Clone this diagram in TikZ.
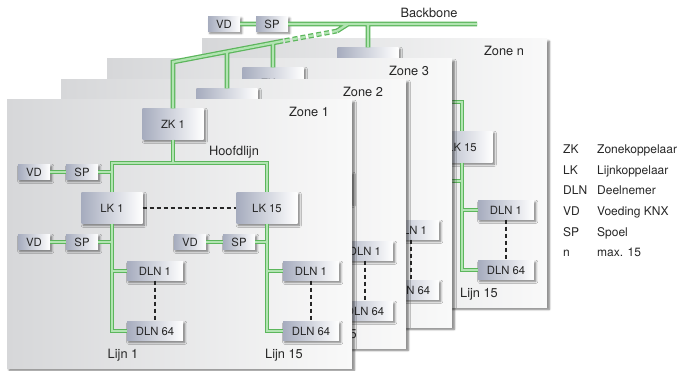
\documentclass[tikz,border=0pt]{standalone}
\usepackage{fontspec}
\setmainfont{TeX Gyre Heros}
\usetikzlibrary{shadows.blur}

\definecolor{zoneleft}{RGB}{214,215,217}
\definecolor{zoneright}{RGB}{249,249,249}
\definecolor{boxleft}{RGB}{166,172,190}
\definecolor{busdark}{RGB}{92,182,92}
\definecolor{buslight}{RGB}{178,228,178}
\definecolor{textgrey}{RGB}{38,38,38}

\begin{document}
\begin{tikzpicture}[
        x=1pt, y=-1pt,
        every node/.style={text=textgrey, inner sep=0pt},
        bus/.style={draw=busdark, line width=1.25pt, double=buslight, double distance=2.3pt},
        dashline/.style={draw=textgrey, line width=1.5pt, dash pattern=on 4pt off 3pt},
        panel/.style={left color=zoneleft, right color=zoneright,
            blur shadow={shadow xshift=2.2pt, shadow yshift=-2.2pt, shadow blur steps=6, shadow opacity=55}},
        unit/.style={left color=boxleft, right color=white,
            font=\fontsize{11.3}{13}\selectfont,
            blur shadow={shadow xshift=1.8pt, shadow yshift=-1.8pt, shadow blur steps=4, shadow opacity=50}},
        bigunit/.style={unit, minimum width=61pt, minimum height=31pt},
        smallunit/.style={unit, minimum width=32pt, minimum height=15pt},
        dlnunit/.style={unit, minimum width=56pt, minimum height=19pt},
        lbl/.style={font=\fontsize{12.8}{15}\selectfont, anchor=base},
        legend/.style={font=\fontsize{12}{14}\selectfont, anchor=base west}
    ]

    \useasboundingbox (0,0) rectangle (682,371);

    % Zones achter Zone 1 (alleen het zichtbare deel)
    \foreach \z/\dx/\dy/\lk/\lj in {n/202/39/LK 15/Lijn 15, 3/107/59//, 2/61/80//Lijn 15}{
        \begin{scope}[shift={(\dx,\dy)}]
            \path[panel] (0,0) rectangle (345,268);
            \node[lbl] (zl\z) at (302,17) {Zone \z};

            \node[bigunit] (zk\z) at (166,24) {ZK \z};
            \coordinate (ha\z) at (105,63);
            \coordinate (hb\z) at (260,63);
            \coordinate (spc\z) at (232,142);

            \node[bigunit] (lkfif\z) at (260,108) {\lk};
            \node[dlnunit] (dln1b\z) at (304,171) {DLN 1};
            \node[dlnunit] (dln64b\z) at (304,231) {DLN 64};
            \node[lbl] (ljb\z) at (277,258) {\lj};

            \draw[bus] (zk\z) -- (zk\z |- ha\z)
                (ha\z) -- (hb\z) -- (lkfif\z)
                (lkfif\z) |- (dln64b\z)
                (dln1b\z) -- (dln1b\z -| hb\z)
                (spc\z) -- (spc\z -| hb\z);
            \draw[dashline] (dln1b\z) -- (dln64b\z);
        \end{scope}
    }

    % Zone 1
    \begin{scope}[shift={(7,100)}]
        \path[panel] (0,0) rectangle (345,268);
        \node[lbl] (zl1) at (302,17) {Zone 1};

        \node[bigunit] (zk1) at (166,24) {ZK 1};
        \node[lbl] (hl1) at (227,55.5) {Hoofdlijn};
        \coordinate (ha1) at (105,63);
        \coordinate (hb1) at (260,63);

        \node[smallunit] (vda1) at (27,72) {VD};
        \node[smallunit] (spa1) at (75,72) {SP};
        \node[bigunit] (lkone1) at (105,108) {LK 1};
        \node[bigunit] (lkfif1) at (260,108) {LK 15};

        \node[smallunit] (vdb1) at (27,142) {VD};
        \node[smallunit] (spb1) at (75,142) {SP};
        \node[smallunit] (vdc1) at (183,142) {VD};
        \node[smallunit] (spc1) at (232,142) {SP};

        \node[dlnunit] (dln1a1) at (148,171) {DLN 1};
        \node[dlnunit] (dln64a1) at (148,231) {DLN 64};
        \node[dlnunit] (dln1b1) at (304,171) {DLN 1};
        \node[dlnunit] (dln64b1) at (304,231) {DLN 64};

        \node[lbl] (lja1) at (116,258) {Lijn 1};
        \node[lbl] (ljb1) at (277,258) {Lijn 15};

        % Lijnen
        \draw[bus] (zk1) -- (zk1 |- ha1)
            (lkone1) -- (ha1) -- (hb1) -- (lkfif1)
            (lkone1) |- (dln64a1)
            (lkfif1) |- (dln64b1)
            (dln1a1) -- (dln1a1 -| ha1)
            (dln1b1) -- (dln1b1 -| hb1)
            (vda1) -- (spa1) (spa1) -- (spa1 -| ha1)
            (vdb1) -- (spb1) (spb1) -- (spb1 -| ha1)
            (vdc1) -- (spc1) (spc1) -- (spc1 -| hb1);

        \draw[dashline] (lkone1) -- (lkfif1);
        \draw[dashline] (dln1a1) -- (dln64a1);
        \draw[dashline] (dln1b1) -- (dln64b1);
    \end{scope}

    % Backbone
    \node[smallunit] (vdbb) at (224,24) {VD};
    \node[smallunit] (spbb) at (272,24) {SP};
    \node[lbl] (bblbl) at (429,17.5) {Backbone};
    \coordinate (bbend) at (477,24);
    \coordinate (bbk) at (348,24);
    \coordinate (dk) at (337,31);
    \coordinate (ds) at (283,41);
    \coordinate (dl) at (173,62);

    \draw[bus] (vdbb) -- (spbb) (spbb) -- (bbend)
        (zkn) -- (zkn |- bbend)
        (bbk) -- (dk)
        (ds) -- (dl) -- (zk1)
        (zk2) -- (intersection of ds--dl and zk2.north--zk2.south)
        (zk3) -- (intersection of ds--dl and zk3.north--zk3.south);
    \draw[bus, dash pattern=on 5pt off 3pt] (dk) -- (ds);

    % Legenda
    \foreach \ab/\txt [count=\i from 0] in {ZK/Zonekoppelaar, LK/Lijnkoppelaar,
            DLN/Deelnemer, VD/Voeding KNX, SP/Spoel, n/max. 15}{
        \node[legend] (ab\i) at (563,153.5+20.7*\i) {\ab};
        \node[legend] (df\i) at (597,153.5+20.7*\i) {\txt};
    }

\end{tikzpicture}
\end{document}
